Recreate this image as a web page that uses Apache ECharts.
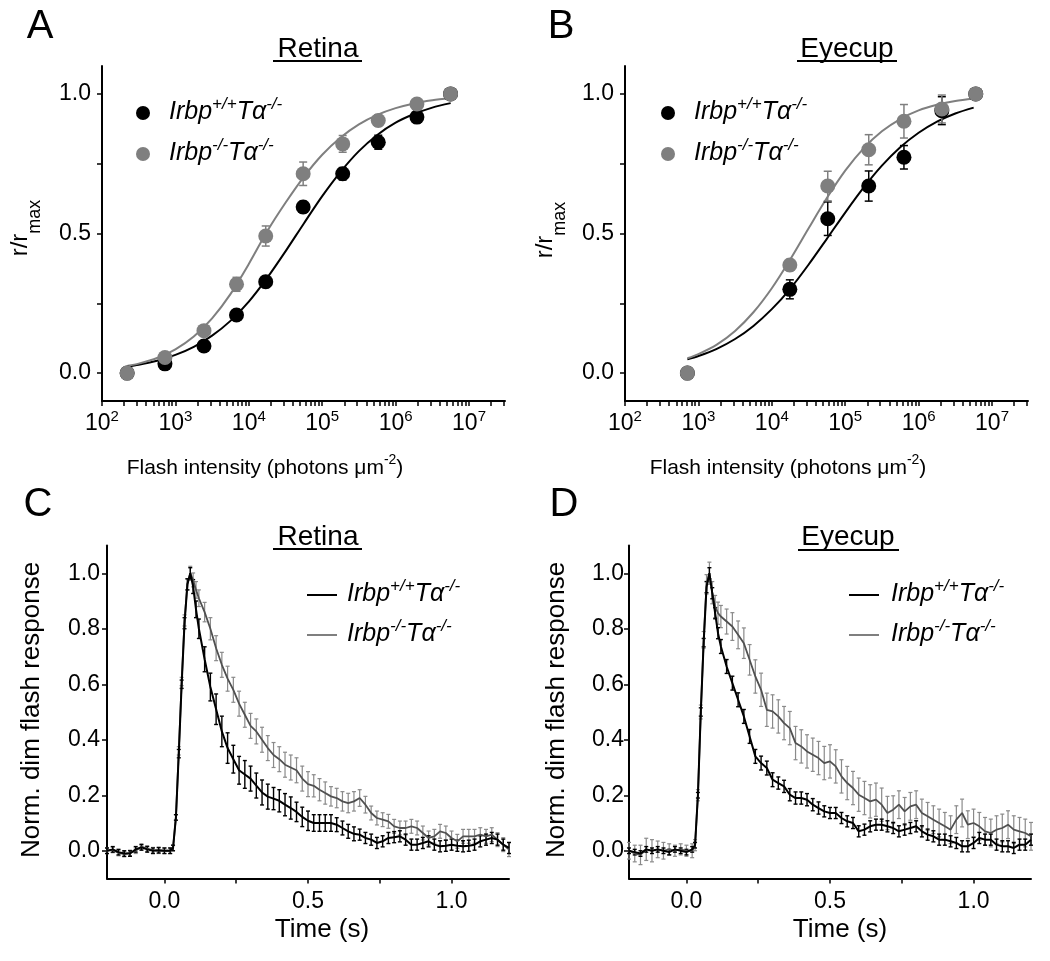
<!DOCTYPE html>
<html>
<head>
<meta charset="utf-8">
<title>Irbp flash responses</title>
<script src="https://cdn.jsdelivr.net/npm/echarts@6/dist/echarts.min.js"></script>
<style>
  html, body { margin: 0; padding: 0; background: #fff; }
  #main { width: 1050px; height: 961px; }
</style>
</head>
<body>
<div id="main"></div>
<script>
// ---------------- data ----------------
// A: retina, intensity-response (photons um^-2 vs r/rmax)
var flashRetina = [220, 720, 2450, 6800, 17000, 55000, 190000, 580000, 1950000, 5600000];
var retinaWt    = [0.0, 0.033, 0.097, 0.208, 0.327, 0.595, 0.714, 0.827, 0.917, 1.0];
var retinaWtErr = [0, 0.01, 0.01, 0.015, 0.02, 0.02, 0.022, 0.025, 0.02, 0];
var retinaKo    = [0.0, 0.056, 0.152, 0.318, 0.491, 0.714, 0.821, 0.905, 0.964, 1.0];
var retinaKoErr = [0, 0.01, 0.01, 0.025, 0.036, 0.042, 0.03, 0.02, 0.01, 0];
// fitted curves, read every quarter decade
var fitRetinaX  = [224, 316, 562, 1000, 1780, 3160, 5620, 10000, 17800, 31600, 56200,
  100000, 178000, 316000, 562000, 1000000, 1780000, 3160000, 5620000];
var fitRetinaWt = [0.024, 0.030, 0.044, 0.065, 0.094, 0.134, 0.187, 0.256, 0.341, 0.436, 0.536,
  0.634, 0.721, 0.795, 0.853, 0.897, 0.928, 0.951, 0.967];
var fitRetinaKo = [0.026, 0.034, 0.054, 0.085, 0.131, 0.196, 0.283, 0.391, 0.508, 0.61, 0.703,
  0.782, 0.844, 0.891, 0.925, 0.949, 0.966, 0.977, 0.985];

// B: eyecup, intensity-response
var flashEyecup = [708, 17600, 57800, 209000, 631000, 2070000, 6000000];
var eyecupWt    = [0.0, 0.30, 0.553, 0.67, 0.773, 0.94, 1.0];
var eyecupWtErr = [0, 0.034, 0.06, 0.054, 0.042, 0.05, 0];
var eyecupKo    = [0.0, 0.387, 0.67, 0.80, 0.902, 0.946, 1.0];
var eyecupKoErr = [0, 0.02, 0.053, 0.054, 0.06, 0.05, 0];
var fitEyecupX  = [708, 1000, 1780, 3160, 5620, 10000, 17800, 31600, 56200,
  100000, 178000, 316000, 562000, 1000000, 1780000, 3160000, 5620000];
var fitEyecupWt = [0.049, 0.061, 0.087, 0.122, 0.169, 0.229, 0.302, 0.388, 0.481,
  0.575, 0.664, 0.743, 0.809, 0.861, 0.901, 0.930, 0.951];
var fitEyecupKo = [0.053, 0.068, 0.102, 0.151, 0.218, 0.304, 0.407, 0.518, 0.627,
  0.725, 0.805, 0.866, 0.910, 0.941, 0.961, 0.975, 0.984];

// C, D: normalized dim flash responses (time in s)
var timeS = [-0.2, -0.18, -0.16, -0.14, -0.12, -0.1, -0.08, -0.06, -0.04, -0.02, 0, 0.02,
  0.03, 0.04, 0.05, 0.06, 0.07, 0.08, 0.09, 0.1, 0.11, 0.12,
  0.14, 0.16, 0.18, 0.2, 0.22, 0.24, 0.26, 0.28, 0.3, 0.32, 0.34, 0.36, 0.38, 0.4,
  0.42, 0.44, 0.46, 0.48, 0.5, 0.52, 0.54, 0.56, 0.58, 0.6, 0.62, 0.64, 0.66, 0.68, 0.7,
  0.72, 0.74, 0.76, 0.78, 0.8, 0.82, 0.84, 0.86, 0.88, 0.9, 0.92, 0.94, 0.96, 0.98, 1,
  1.02, 1.04, 1.06, 1.08, 1.1, 1.12, 1.14, 1.16, 1.18, 1.2];

var retinaWtTrace = [0.0, 0.005, -0.005, -0.01, -0.01, 0.005, 0.012, 0.005, 0.0, 0.002, 0.0, 0.0,
  0.01, 0.12, 0.35, 0.6, 0.82, 0.96, 1.0, 0.952, 0.87, 0.80,
  0.69, 0.59, 0.51, 0.43, 0.37, 0.33, 0.29, 0.275, 0.26, 0.235, 0.21, 0.195, 0.188, 0.18,
  0.166, 0.154, 0.14, 0.122, 0.108, 0.1, 0.1, 0.1, 0.1, 0.094, 0.082, 0.07, 0.061, 0.058, 0.046,
  0.04, 0.028, 0.034, 0.046, 0.049, 0.052, 0.04, 0.022, 0.022, 0.028, 0.034, 0.022, 0.016, 0.018, 0.022,
  0.018, 0.016, 0.018, 0.022, 0.034, 0.04, 0.046, 0.04, 0.022, 0.01];
var retinaWtSem = [0.01, 0.01, 0.01, 0.01, 0.01, 0.01, 0.01, 0.01, 0.01, 0.01, 0.01, 0.01,
  0.01, 0.01, 0.015, 0.015, 0.02, 0.02, 0.02, 0.025, 0.03, 0.035,
  0.045, 0.05, 0.055, 0.055, 0.055, 0.05, 0.05, 0.05, 0.045, 0.045, 0.045, 0.045, 0.04, 0.04,
  0.04, 0.04, 0.035, 0.035, 0.035, 0.03, 0.03, 0.03, 0.03, 0.025, 0.025, 0.025, 0.025, 0.02, 0.02,
  0.02, 0.02, 0.02, 0.02, 0.02, 0.02, 0.02, 0.02, 0.02, 0.02, 0.02, 0.02, 0.02, 0.02, 0.02,
  0.02, 0.02, 0.02, 0.02, 0.02, 0.02, 0.02, 0.02, 0.02, 0.02];
var retinaKoTrace = [0.0, 0.003, -0.008, -0.012, -0.008, 0.0, 0.015, 0.008, 0.002, 0.0, 0.0, 0.0,
  0.01, 0.12, 0.36, 0.61, 0.83, 0.96, 1.0, 0.976, 0.94, 0.91,
  0.86, 0.80, 0.73, 0.67, 0.62, 0.58, 0.53, 0.49, 0.45, 0.43, 0.40, 0.37, 0.345, 0.33,
  0.31, 0.30, 0.29, 0.26, 0.24, 0.234, 0.22, 0.208, 0.196, 0.19, 0.178, 0.172, 0.178, 0.19, 0.166,
  0.136, 0.118, 0.112, 0.106, 0.088, 0.082, 0.082, 0.088, 0.082, 0.064, 0.046, 0.052, 0.07, 0.064, 0.046,
  0.034, 0.052, 0.052, 0.052, 0.058, 0.052, 0.058, 0.04, 0.022, 0.004];
var retinaKoSem = [0.01, 0.01, 0.01, 0.01, 0.01, 0.01, 0.01, 0.01, 0.01, 0.01, 0.01, 0.01,
  0.01, 0.01, 0.015, 0.015, 0.02, 0.02, 0.025, 0.025, 0.03, 0.03,
  0.035, 0.04, 0.045, 0.045, 0.045, 0.045, 0.045, 0.045, 0.045, 0.045, 0.045, 0.045, 0.045, 0.045,
  0.045, 0.045, 0.045, 0.045, 0.045, 0.04, 0.04, 0.04, 0.035, 0.035, 0.035, 0.035, 0.035, 0.03, 0.03,
  0.025, 0.025, 0.025, 0.025, 0.025, 0.025, 0.025, 0.025, 0.025, 0.025, 0.025, 0.025, 0.025, 0.025, 0.025,
  0.025, 0.025, 0.025, 0.025, 0.025, 0.025, 0.025, 0.025, 0.025, 0.025];

var eyecupWtTrace = [0.0, -0.005, -0.01, 0.005, 0.0, 0.005, 0.0, -0.005, 0.005, 0.0, -0.005, 0.005,
  0.02, 0.2, 0.5, 0.75, 0.95, 1.0, 0.928, 0.856, 0.784, 0.736,
  0.664, 0.604, 0.544, 0.484, 0.412, 0.34, 0.316, 0.298, 0.256, 0.244, 0.232, 0.202, 0.19, 0.19,
  0.184, 0.166, 0.154, 0.142, 0.136, 0.136, 0.118, 0.106, 0.1, 0.07, 0.076, 0.088, 0.094, 0.094, 0.088,
  0.082, 0.07, 0.076, 0.082, 0.088, 0.07, 0.058, 0.052, 0.04, 0.04, 0.034, 0.028, 0.016, 0.016, 0.028,
  0.046, 0.04, 0.04, 0.022, 0.016, 0.016, 0.01, 0.022, 0.022, 0.04];
var eyecupWtSem = [0.01, 0.01, 0.01, 0.01, 0.01, 0.01, 0.01, 0.01, 0.01, 0.01, 0.01, 0.01,
  0.01, 0.01, 0.015, 0.015, 0.02, 0.02, 0.02, 0.02, 0.02, 0.025,
  0.025, 0.025, 0.025, 0.025, 0.025, 0.025, 0.025, 0.025, 0.025, 0.022, 0.022, 0.022, 0.022, 0.022,
  0.022, 0.022, 0.022, 0.02, 0.02, 0.02, 0.02, 0.02, 0.02, 0.02, 0.02, 0.02, 0.02, 0.02, 0.02,
  0.02, 0.02, 0.02, 0.02, 0.02, 0.02, 0.02, 0.02, 0.02, 0.02, 0.02, 0.02, 0.02, 0.02, 0.02,
  0.02, 0.02, 0.02, 0.02, 0.02, 0.02, 0.02, 0.02, 0.02, 0.02];
var eyecupKoTrace = [0.0, -0.01, -0.015, 0.005, 0.0, 0.005, 0.0, 0.005, 0.0, 0.005, 0.0, 0.0,
  0.02, 0.2, 0.5, 0.76, 0.96, 1.0, 0.93, 0.88, 0.856, 0.844,
  0.826, 0.808, 0.778, 0.748, 0.688, 0.628, 0.58, 0.508, 0.502, 0.484, 0.46, 0.442, 0.388, 0.376,
  0.358, 0.346, 0.334, 0.316, 0.322, 0.304, 0.268, 0.244, 0.226, 0.202, 0.19, 0.178, 0.184, 0.166, 0.136,
  0.148, 0.166, 0.142, 0.16, 0.166, 0.136, 0.124, 0.112, 0.1, 0.088, 0.076, 0.112, 0.136, 0.094, 0.1,
  0.088, 0.07, 0.064, 0.076, 0.082, 0.094, 0.076, 0.07, 0.064, 0.052];
var eyecupKoSem = [0.03, 0.03, 0.035, 0.04, 0.04, 0.03, 0.03, 0.02, 0.02, 0.02, 0.02, 0.025,
  0.02, 0.02, 0.025, 0.03, 0.035, 0.04, 0.04, 0.04, 0.04, 0.04,
  0.045, 0.05, 0.05, 0.055, 0.055, 0.06, 0.06, 0.06, 0.06, 0.06, 0.06, 0.06, 0.06, 0.06,
  0.06, 0.06, 0.06, 0.06, 0.06, 0.06, 0.06, 0.06, 0.06, 0.06, 0.06, 0.06, 0.06, 0.06, 0.06,
  0.05, 0.05, 0.05, 0.05, 0.05, 0.05, 0.05, 0.05, 0.05, 0.05, 0.05, 0.05, 0.05, 0.05, 0.05,
  0.05, 0.05, 0.05, 0.05, 0.05, 0.05, 0.05, 0.05, 0.05, 0.05];

// axis ticks and labels
var decadeLabels = [2, 3, 4, 5, 6, 7];
var frLabels = [0, 0.5, 1];
var frTicks = [0, 0.25, 0.5, 0.75, 1];
var timeLabels = [0, 0.5, 1];
var timeTicks = [0, 0.25, 0.5, 0.75, 1];
var normLabels = [0, 0.2, 0.4, 0.6, 0.8, 1];

// ---------------- helpers ----------------
var FONT = '"Liberation Sans", Arial, sans-serif';
var BLACK = '#000000';
var GREY = '#7f7f7f';

function logPts(xs, ys, errs) {
  return xs.map(function (x, i) {
    var p = [Math.log10(x), ys[i]];
    if (errs) p.push(errs[i]);
    return p;
  });
}
function tracePts(ys, errs) {
  return timeS.map(function (t, i) { return errs ? [t, ys[i], errs[i]] : [t, ys[i]]; });
}

function errBars(color, cap, width) {
  return function (params, api) {
    var x = api.value(0), y = api.value(1), e = api.value(2);
    var hi = api.coord([x, y + e]);
    var lo = api.coord([x, y - e]);
    var st = { stroke: color, lineWidth: width };
    return {
      type: 'group',
      children: [
        { type: 'line', shape: { x1: hi[0], y1: hi[1], x2: lo[0], y2: lo[1] }, style: st },
        { type: 'line', shape: { x1: hi[0] - cap, y1: hi[1], x2: hi[0] + cap, y2: hi[1] }, style: st },
        { type: 'line', shape: { x1: lo[0] - cap, y1: lo[1], x2: lo[0] + cap, y2: lo[1] }, style: st }
      ]
    };
  };
}

// minor ticks of the log axis: 1..9 x 10^d
var minorLog = [];
for (var d = 2; d <= 7; d++) {
  for (var k = 1; k <= 9; k++) {
    var v = d + Math.log10(k);
    if (v <= 7.49) minorLog.push(v);
  }
}

var axisLineStyle = { color: BLACK, width: 2 };
var tickStyle = { color: BLACK, width: 1.5 };

function logXAxis(grid) {
  return {
    type: 'value', gridIndex: grid, min: 2, max: 7.49,
    axisLine: { onZero: false, lineStyle: axisLineStyle },
    axisTick: { length: 5, lineStyle: tickStyle, customValues: minorLog },
    axisLabel: {
      customValues: decadeLabels, margin: 8, color: BLACK,
      formatter: function (v) { return '{b|10}{s|' + Math.round(v) + '}'; },
      rich: {
        b: { fontSize: 23, fontFamily: FONT, color: BLACK, lineHeight: 30 },
        s: { fontSize: 15, fontFamily: FONT, color: BLACK, lineHeight: 14, verticalAlign: 'top' }
      }
    },
    splitLine: { show: false }
  };
}
function linAxis(grid, min, max, labels, ticks, margin) {
  return {
    type: 'value', gridIndex: grid, min: min, max: max,
    axisLine: { onZero: false, lineStyle: axisLineStyle },
    axisTick: { length: 5, lineStyle: tickStyle, customValues: ticks },
    axisLabel: {
      customValues: labels, margin: margin, color: BLACK, fontSize: 23, fontFamily: FONT,
      formatter: function (v) { return (Math.round(v * 10) / 10).toFixed(1); }
    },
    splitLine: { show: false }
  };
}

function scatter(idx, pts, color) {
  return {
    type: 'scatter', xAxisIndex: idx, yAxisIndex: idx, data: pts,
    symbol: 'circle', symbolSize: 15, itemStyle: { color: color, opacity: 1 }, z: 5
  };
}
function fitLine(idx, pts, color) {
  return {
    type: 'line', xAxisIndex: idx, yAxisIndex: idx, data: pts, smooth: 0.3,
    showSymbol: false, symbol: 'none', lineStyle: { color: color, width: 2 }, z: 2
  };
}
function errSeries(idx, pts, color, cap, width, z) {
  return {
    type: 'custom', xAxisIndex: idx, yAxisIndex: idx, data: pts,
    renderItem: errBars(color, cap, width), encode: { x: 0, y: 1 }, z: z
  };
}
function traceLine(idx, pts, color, width, z) {
  return {
    type: 'line', xAxisIndex: idx, yAxisIndex: idx, data: pts, showSymbol: false, symbol: 'none',
    lineStyle: { color: color, width: width }, z: z
  };
}

// ---------------- text decorations ----------------
var legRich = {
  i: { fontSize: 25, fontStyle: 'italic', fontFamily: FONT, fill: BLACK, lineHeight: 32 },
  s: { fontSize: 17, fontStyle: 'italic', fontFamily: FONT, fill: BLACK, lineHeight: 16, verticalAlign: 'top' }
};
var wtLabel = '{i|Irbp}{s|+/+}{i|T\u03b1}{s|-/-}';
var koLabel = '{i|Irbp}{s|-/-}{i|T\u03b1}{s|-/-}';

function txt(x, y, text, size, extra) {
  var el = {
    type: 'text', x: x, y: y, silent: true,
    style: { text: text, fontSize: size, fontFamily: FONT, fill: BLACK, align: 'center', verticalAlign: 'middle' }
  };
  if (extra) for (var key in extra) el[key] = extra[key];
  return el;
}
function underline(x1, x2, y) {
  return { type: 'line', silent: true, shape: { x1: x1, y1: y, x2: x2, y2: y }, style: { stroke: BLACK, lineWidth: 2 } };
}
function richText(x, y, text, rich, rotation) {
  return { type: 'text', x: x, y: y, rotation: rotation || 0, silent: true,
    style: { text: text, rich: rich, align: 'center', verticalAlign: 'middle' } };
}
function legendText(x, y, label) {
  return { type: 'text', x: x, y: y, silent: true, style: { text: label, rich: legRich, align: 'left', verticalAlign: 'middle' } };
}
function legendDot(x, y, color) {
  return { type: 'circle', silent: true, shape: { cx: x, cy: y, r: 7 }, style: { fill: color } };
}
function legendLine(x1, x2, y, color) {
  return { type: 'line', silent: true, shape: { x1: x1, y1: y, x2: x2, y2: y }, style: { stroke: color, lineWidth: 2 } };
}

var xNameRich = {
  b: { fontSize: 21, fontFamily: FONT, fill: BLACK, lineHeight: 30 },
  s: { fontSize: 14, fontFamily: FONT, fill: BLACK, lineHeight: 14, verticalAlign: 'top' }
};
var yNameRich = {
  b: { fontSize: 24, fontFamily: FONT, fill: BLACK, lineHeight: 26, verticalAlign: 'top' },
  s: { fontSize: 18, fontFamily: FONT, fill: BLACK, lineHeight: 36, verticalAlign: 'bottom' }
};
var flashName = '{b|Flash intensity (photons \u03bcm}{s|-2}{b|)}';
var rName = '{b|r/r}{s|max}';
var ROT = Math.PI / 2;

var graphics = [
  txt(40, 27, 'A', 40), txt(561, 27, 'B', 40), txt(38, 505, 'C', 40), txt(564, 505, 'D', 40),
  txt(318, 49, 'Retina', 28), underline(273, 362, 61),
  txt(847, 49, 'Eyecup', 28), underline(797, 897, 61),
  txt(318, 537, 'Retina', 28), underline(273, 362, 549),
  txt(848, 537, 'Eyecup', 28), underline(798, 899, 550),
  richText(265, 468, flashName, xNameRich), richText(788, 468, flashName, xNameRich),
  txt(322, 930, 'Time (s)', 26), txt(840, 930, 'Time (s)', 26),
  richText(26, 228, rName, yNameRich, ROT), richText(551, 230, rName, yNameRich, ROT),
  txt(32, 710, 'Norm. dim flash response', 26, { rotation: ROT }),
  txt(557, 710, 'Norm. dim flash response', 26, { rotation: ROT }),
  legendDot(143, 113, BLACK), legendText(169, 112, wtLabel),
  legendDot(143, 154, GREY), legendText(169, 153, koLabel),
  legendDot(668, 113, BLACK), legendText(694, 112, wtLabel),
  legendDot(668, 154, GREY), legendText(694, 153, koLabel),
  legendLine(307, 337, 595, BLACK), legendText(347, 594, wtLabel),
  legendLine(307, 337, 635, GREY), legendText(347, 634, koLabel),
  legendLine(849, 879, 595, BLACK), legendText(891, 594, wtLabel),
  legendLine(849, 879, 635, GREY), legendText(891, 634, koLabel)
];

// ---------------- chart ----------------
var chart = echarts.init(document.getElementById('main'), null, { renderer: 'canvas' });
chart.setOption({
  backgroundColor: '#ffffff',
  animation: false,
  grid: [
    { left: 102, top: 66, width: 403, height: 335, outerBoundsMode: 'none' },
    { left: 625, top: 66, width: 403, height: 335, outerBoundsMode: 'none' },
    { left: 107, top: 545.5, width: 402, height: 333, outerBoundsMode: 'none' },
    { left: 629, top: 545.5, width: 402, height: 333, outerBoundsMode: 'none' }
  ],
  xAxis: [
    logXAxis(0), logXAxis(1),
    linAxis(2, -0.2, 1.2, timeLabels, timeTicks, 12),
    linAxis(3, -0.2, 1.2, timeLabels, timeTicks, 12)
  ],
  yAxis: [
    linAxis(0, -0.1, 1.1, frLabels, frTicks, 11),
    linAxis(1, -0.1, 1.1, frLabels, frTicks, 11),
    linAxis(2, -0.1, 1.1, normLabels, normLabels, 7),
    linAxis(3, -0.1, 1.1, normLabels, normLabels, 5)
  ],
  graphic: graphics,
  series: [
    // A
    fitLine(0, logPts(fitRetinaX, fitRetinaWt), BLACK),
    fitLine(0, logPts(fitRetinaX, fitRetinaKo), GREY),
    errSeries(0, logPts(flashRetina, retinaWt, retinaWtErr), BLACK, 4, 1.5, 3),
    errSeries(0, logPts(flashRetina, retinaKo, retinaKoErr), GREY, 4, 1.5, 3),
    scatter(0, logPts(flashRetina, retinaWt), BLACK),
    scatter(0, logPts(flashRetina, retinaKo), GREY),
    // B
    fitLine(1, logPts(fitEyecupX, fitEyecupWt), BLACK),
    fitLine(1, logPts(fitEyecupX, fitEyecupKo), GREY),
    errSeries(1, logPts(flashEyecup, eyecupWt, eyecupWtErr), BLACK, 4, 1.5, 3),
    errSeries(1, logPts(flashEyecup, eyecupKo, eyecupKoErr), GREY, 4, 1.5, 3),
    scatter(1, logPts(flashEyecup, eyecupWt), BLACK),
    scatter(1, logPts(flashEyecup, eyecupKo), GREY),
    // C
    errSeries(2, tracePts(retinaKoTrace, retinaKoSem), '#8a8a8a', 2, 1.2, 2),
    errSeries(2, tracePts(retinaWtTrace, retinaWtSem), BLACK, 2, 1.4, 3),
    traceLine(2, tracePts(retinaKoTrace), '#505050', 1.8, 4),
    traceLine(2, tracePts(retinaWtTrace), BLACK, 2, 5),
    // D
    errSeries(3, tracePts(eyecupKoTrace, eyecupKoSem), '#8a8a8a', 2, 1.2, 2),
    errSeries(3, tracePts(eyecupWtTrace, eyecupWtSem), BLACK, 2, 1.4, 3),
    traceLine(3, tracePts(eyecupKoTrace), '#505050', 1.8, 4),
    traceLine(3, tracePts(eyecupWtTrace), BLACK, 2, 5)
  ]
});
</script>
</body>
</html>
